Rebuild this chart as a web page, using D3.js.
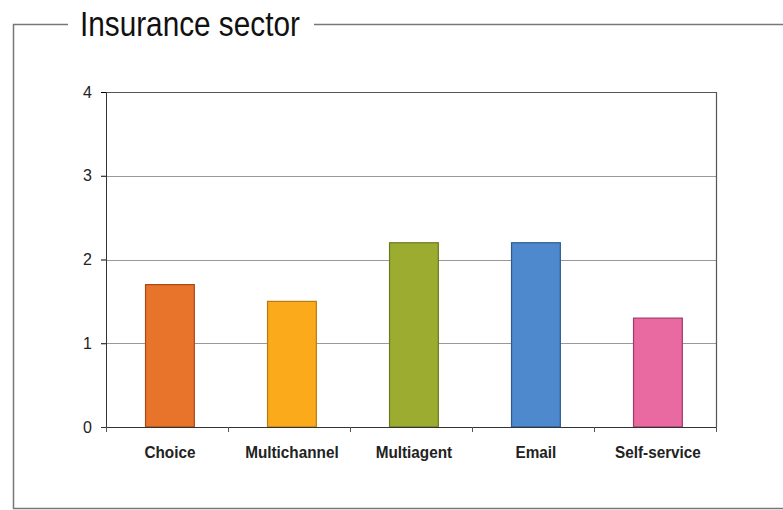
<!DOCTYPE html>
<html lang="en">
<head>
<meta charset="UTF-8" />
<script src="https://d3js.org/d3.v7.min.js"></script>
<title>Insurance sector</title>
<style>
  body { margin:0; background:#fff; }
  text { font-family: "Liberation Sans", Arial, sans-serif; }
</style>
</head>
<body>
<script>
var categories = ["Choice", "Multichannel", "Multiagent", "Email", "Self-service"];
var values = [1.7, 1.5, 2.2, 2.2, 1.3];
var colors = ["#e8732a", "#fbaa1c", "#9cac30", "#4d89cc", "#e96aa0"];
var strokes = ["#a8481a", "#b87a10", "#6a7a20", "#2d5a8c", "#a03a68"];
var yTicks = [0, 1, 2, 3, 4];
var title = "Insurance sector";

var W = 783, H = 510;
var margin = {top:92, right:67, bottom:83, left:106};
var width = W - margin.left - margin.right;
var height = H - margin.top - margin.bottom;

var svg = d3.select("body").append("svg").attr("width", W).attr("height", H);

// outer frame with title
svg.append("path")
  .attr("d", "M68,24.5H13.5V508.5H783 M314,24.5H783")
  .attr("stroke", "#777").attr("stroke-width", 1.5).attr("fill", "none");
svg.append("text").attr("transform", "translate(80,36) scale(0.85,1)")
  .attr("font-size", 35).attr("fill", "#111").text(title);

var g = svg.append("g").attr("transform", "translate(" + margin.left + "," + margin.top + ")");

var x = d3.scaleBand().domain(categories).range([0, width])
  .paddingInner(0.6).paddingOuter(0.3).align(0.54);
var y = d3.scaleLinear().domain([0, 4]).range([height, 0]);

// gridlines
g.selectAll(".grid").data(yTicks.filter(function(d){ return d > 0 && d < 4; }))
  .enter().append("line")
  .attr("x1", 0).attr("x2", width)
  .attr("y1", function(d){ return Math.round(y(d)) + 0.5; })
  .attr("y2", function(d){ return Math.round(y(d)) + 0.5; })
  .attr("stroke", "#999").attr("stroke-width", 1);

// plot border top & right
g.append("path")
  .attr("d", "M0,0.5H" + (width + 0.5) + "V" + height)
  .attr("stroke", "#555").attr("stroke-width", 1.2).attr("fill", "none");

// bars
g.selectAll(".bar").data(values).enter().append("rect")
  .attr("x", function(d, i){ return x(categories[i]); })
  .attr("y", function(d){ return y(d); })
  .attr("width", x.bandwidth())
  .attr("height", function(d){ return height - y(d); })
  .attr("fill", function(d, i){ return colors[i]; })
  .attr("stroke", function(d, i){ return strokes[i]; })
  .attr("stroke-width", 1.2);

// y axis
var yAxis = g.append("g").call(d3.axisLeft(y).tickValues(yTicks).tickFormat(d3.format("d")).tickSize(5).tickPadding(9));
yAxis.select(".domain").attr("stroke", "#333");
yAxis.selectAll("text").attr("font-size", 16).attr("fill", "#222")
  .style("font-family", "'Liberation Sans', Arial, sans-serif");

// x axis with ticks at band boundaries
var xa = g.append("g").attr("transform", "translate(0," + height + ")");
xa.append("line").attr("x1", -5).attr("x2", width).attr("y1", 0.5).attr("y2", 0.5).attr("stroke", "#333");
xa.selectAll(".tk").data(d3.range(0, categories.length + 1)).enter().append("line")
  .attr("x1", function(i){ return Math.round(i * width / categories.length) + 0.5; })
  .attr("x2", function(i){ return Math.round(i * width / categories.length) + 0.5; })
  .attr("y1", 0).attr("y2", 5).attr("stroke", "#555");
xa.selectAll(".lbl").data(categories).enter().append("text")
  .attr("transform", function(d){ return "translate(" + (x(d) + x.bandwidth() / 2) + ",31) scale(0.9,1)"; })
  .attr("text-anchor", "middle")
  .attr("font-size", 17).attr("font-weight", "bold").attr("fill", "#222")
  .text(function(d){ return d; });
</script>
</body>
</html>
